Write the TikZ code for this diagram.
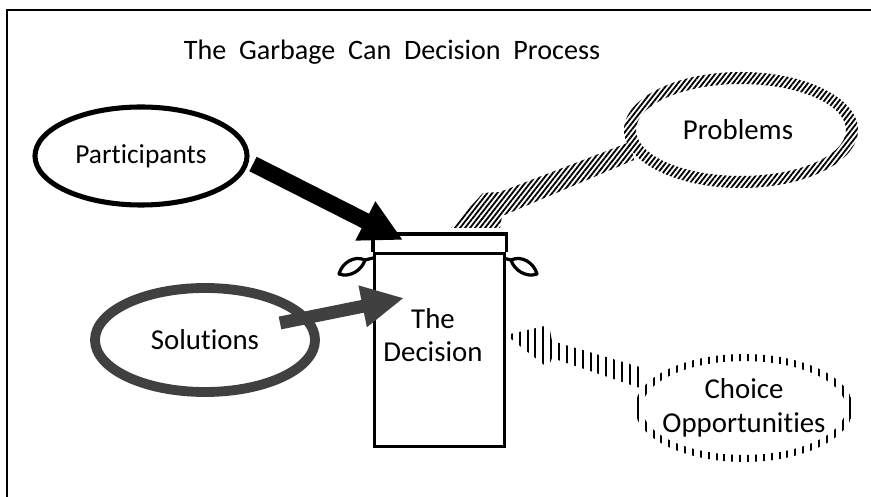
\documentclass[tikz,border=0pt]{standalone}
\usepackage{fontspec}
\setmainfont{Carlito}[Ligatures=NoCommon]
\usetikzlibrary{shapes.geometric,arrows.meta,patterns.meta}
\tikzset{
  lbl/.style={font=\fontsize{20.5}{24}\selectfont},
  slash/.style={pattern={Lines[angle=52,distance=2.8pt,line width=1.3pt]}},
  ticks/.style={pattern={Lines[angle=90,distance=5.6pt,line width=1.4pt]}},
  handle/.style={line width=2.3pt,line join=round},
}
\begin{document}
\begin{tikzpicture}[x=0.025cm,y=-0.025cm]
\useasboundingbox(0,0)rectangle(871,497);
\draw[line width=1.5pt](7,497)--(7,10)--(871,10);
\node[font=\fontsize{20}{22}\selectfont](title)at(392,52){The\ \ Garbage\ \ Can\ \ Decision\ \ Process};
\node[ellipse,draw,line width=3.6pt,inner sep=0pt,minimum width=5.3cm,minimum height=2.45cm,font=\fontsize{19.5}{22}\selectfont](part)at(141,156){Participants\hspace{0.4cm}};
\node[ellipse,draw=black!75,line width=7pt,inner sep=0pt,minimum width=5.5cm,minimum height=2.6cm,lbl](sol)at(205,340){Solutions};
\node[lbl](prob)at(738,130){Problems};
\node[lbl,align=center](choice)at(744,408){Choice\\Opportunities};
\node[draw,line width=2.2pt,minimum width=3.25cm,minimum height=4.825cm,anchor=north west](can)at(373,252){};
\draw[line width=2.2pt](can.north west)--++(0,-18)-|(can.north east);
\node[lbl,align=center](dec)at(433,335){The\\Decision};
\draw[handle](373,258)--(365,260)..controls(354,255)and(342,263)..(339,274)..controls(350,278)and(362,270)..(365,260);
\draw[handle](503,258)--(511,260)..controls(522,255)and(534,263)..(537,274)..controls(526,278)and(514,270)..(511,260);
\coordinate(pTail)at(253,164);
\coordinate(pTip)at(403,240);
\draw[line width=11.5pt,-{Triangle[length=30pt,width=29pt]}](pTail)--(pTip);
\coordinate(sTail)at(280,323);
\coordinate(sTip)at(404,298);
\draw[black!75,line width=9.2pt,-{Triangle[length=30pt,width=28pt]}](sTail)--(sTip);
\fill[slash](630,142)--(500,192)--(483,193)--(451,228)--(500,228)--(502,216)--(634,160)--cycle;
\fill[slash,even odd rule](prob.center)++(3,0)ellipse[x radius=117,y radius=58]++(0,0)ellipse[x radius=105,y radius=46];
\fill[ticks](506,335)--(549,325)--(552,341)--(640,367)--(640,388)--(552,358)--(548,368)--cycle;
\fill[ticks,even odd rule](choice.center)ellipse[x radius=109,y radius=54]ellipse[x radius=102,y radius=47];
\end{tikzpicture}
\end{document}
